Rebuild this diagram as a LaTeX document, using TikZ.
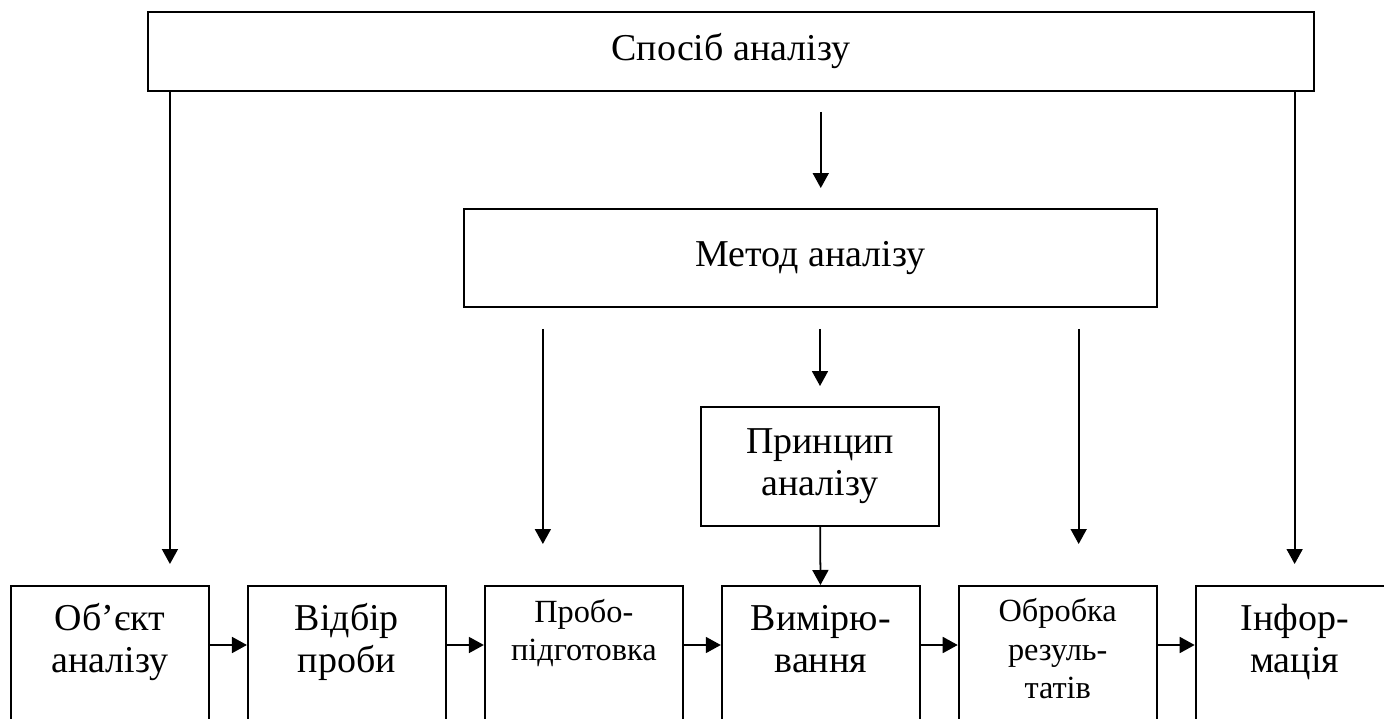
\documentclass[tikz,border=0pt]{standalone}
\usepackage{fontspec}
\setmainfont{Liberation Serif}
\usetikzlibrary{positioning,arrows.meta}

\begin{document}
\begin{tikzpicture}[node distance=0.74cm]
  \tikzstyle{box}=[draw,line width=1.1pt,align=center,font=\fontsize{21.6}{24}\selectfont]
  \tikzstyle{stage}=[box,minimum width=3.96cm,inner ysep=0pt,text height=1.74cm,text depth=1.66cm]
  \tikzstyle{smalltext}=[font=\fontsize{18.4}{22}\selectfont,text height=1.5cm,text depth=1.9cm]
  \tikzstyle{arr}=[line width=1pt,-{Triangle[length=0.3cm,width=0.32cm]}]
  \useasboundingbox (0,0) rectangle (27.68,-14.38);
  \clip (0,0) rectangle (27.68,-14.38);
  % upper part
  \node[box,minimum width=23.32cm,minimum height=1.58cm] (sposib) at (14.62,-1.03) {Спосіб аналізу};
  \node[box,minimum width=13.86cm,minimum height=1.96cm] (method) at (16.21,-5.16) {Метод аналізу};
  \node[box,minimum width=4.76cm,minimum height=2.38cm] (prin) at (16.4,-9.33) {Принцип\\аналізу};
  % chain of stages
  \node[stage,anchor=north west] (obj) at (0.2,-11.7) {Об’єкт\\аналізу};
  \node[stage,right=of obj] (sample) {Відбір\\проби};
  \node[stage,smalltext,right=of sample] (probe) {Пробо-\\підготовка};
  \node[stage,right=of probe] (meas) {Вимірю-\\вання};
  \node[stage,smalltext,text height=2.26cm,text depth=1.14cm,right=of meas] (proc) {Обробка\\резуль-\\татів};
  \node[stage,right=of proc] (info) {Інфор-\\мація};
  \draw[arr] ([yshift=-1.2cm]obj.north east) -- ([yshift=-1.2cm]sample.north west);
  \draw[arr] ([yshift=-1.2cm]sample.north east) -- ([yshift=-1.2cm]probe.north west);
  \draw[arr] ([yshift=-1.2cm]probe.north east) -- ([yshift=-1.2cm]meas.north west);
  \draw[arr] ([yshift=-1.2cm]meas.north east) -- ([yshift=-1.2cm]proc.north west);
  \draw[arr] ([yshift=-1.2cm]proc.north east) -- ([yshift=-1.2cm]info.north west);
  % arrow ends above the stages
  \coordinate (objin) at ([xshift=-0.8cm,yshift=0.42cm]obj.north east);
  \coordinate (infoin) at ([yshift=0.42cm]info.north);
  \coordinate (probein) at ([xshift=1.18cm,yshift=0.82cm]probe.north west);
  \coordinate (procin) at ([xshift=-1.58cm,yshift=0.82cm]proc.north east);
  \coordinate (sout) at ([yshift=-0.4cm]sposib.south);
  \coordinate (min) at ([yshift=0.4cm]method.north);
  \coordinate (mout) at ([yshift=-0.42cm]method.south);
  \coordinate (pin) at ([yshift=0.4cm]prin.north);
  \draw[arr] (sposib.south -| objin) -- (objin);
  \draw[arr] (sposib.south -| infoin) -- (infoin);
  \draw[arr] (sout -| meas) -- (min -| meas);
  \draw[arr] (mout -| probein) -- (probein);
  \draw[arr] (mout -| procin) -- (procin);
  \draw[arr] (mout -| prin) -- (pin);
  \draw[arr] (prin) -- (meas);
\end{tikzpicture}
\end{document}
